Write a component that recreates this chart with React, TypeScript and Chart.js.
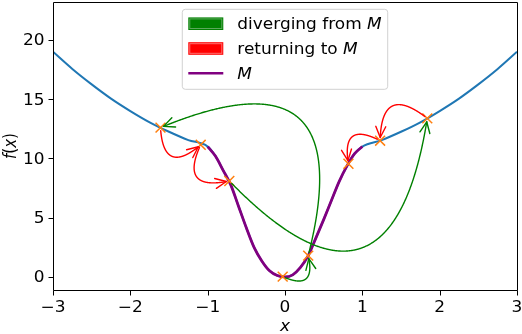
import React, { useEffect, useRef } from 'react';
import { Chart, registerables } from 'chart.js';

Chart.register(...registerables);

// ---- data ----
const curveX = [-3, -2.75, -2.5, -2.25, -2, -1.75, -1.5, -1.25, -1, -0.9, -0.8, -0.7, -0.6, -0.5, -0.4, -0.3, -0.2, -0.1, 0, 0.1, 0.2, 0.3, 0.4, 0.5, 0.6, 0.7, 0.8, 0.9, 1, 1.25, 1.5, 1.75, 2, 2.25, 2.5, 2.75, 3];
const curveY = [19.0, 17.55, 16.25, 15.05, 14.0, 13.05, 12.25, 11.55, 11.0, 10.2, 9.0, 7.75, 5.95, 4.15, 2.5, 1.35, 0.52, 0.12, 0.0, 0.18, 0.8, 1.8, 3.3, 4.84, 6.45, 8.05, 9.35, 10.4, 11.0, 11.55, 12.25, 13.05, 14.0, 15.05, 16.25, 17.55, 19.0];
const mFrom = -1;
const mTo = 1;

const markerX = [-1.61, -1.09, -0.72, -0.03, 0.3, 0.82, 1.23, 1.84];
const markerY = [12.6, 11.15, 8.1, 0.03, 1.8, 9.55, 11.5, 13.38];

// arrows: indices into the marker arrays
const divergingFrom = [3, 4, 2];
const divergingTo = [4, 0, 7];
const returningFrom = [0, 1, 7, 6];
const returningTo = [1, 2, 6, 5];

const xTicks = [-3, -2, -1, 0, 1, 2, 3];
const yTicks = [0, 5, 10, 15, 20];
const xRange = [-3, 3];
const yRange = [-1.1, 23.2];

const legendTexts = ['diverging from ', 'returning to ', ''];
const legendItalic = ['M', 'M', 'M'];

// ---- styles ----
const FONT = '"DejaVu Sans"';
const FS = 15;
const HS = 1.13; // horizontal text stretch seen in the reference
const BLUE = '#1f77b4';
const ORANGE = '#ff7f0e';
const PURPLE = '#800080';
const GREEN = '#008000';
const RED = '#ff0000';
const ARC_RAD = 1;

const fmt = (v: number) => (v < 0 ? '\u2212' + Math.abs(v) : String(v));

function drawArc(ctx: CanvasRenderingContext2D, p0: any, p2: any, color: string) {
  const mx = (p0.x + p2.x) / 2;
  const my = (p0.y + p2.y) / 2;
  const dx = p2.x - p0.x;
  const dy = p2.y - p0.y;
  const c = { x: mx - ARC_RAD * dy, y: my + ARC_RAD * dx };
  const shrink = 3;
  const pts: { x: number; y: number }[] = [];
  const N = 400;
  for (let i = 0; i <= N; i++) {
    const t = i / N;
    const a = (1 - t) * (1 - t);
    const b = 2 * t * (1 - t);
    const d = t * t;
    const p = { x: a * p0.x + b * c.x + d * p2.x, y: a * p0.y + b * c.y + d * p2.y };
    if (Math.hypot(p.x - p0.x, p.y - p0.y) >= shrink && Math.hypot(p.x - p2.x, p.y - p2.y) >= shrink) pts.push(p);
  }
  if (pts.length < 6) return;
  ctx.save();
  ctx.strokeStyle = color;
  ctx.lineWidth = 1.4;
  ctx.lineJoin = 'round';
  ctx.lineCap = 'round';
  ctx.beginPath();
  pts.forEach((p, i) => (i ? ctx.lineTo(p.x, p.y) : ctx.moveTo(p.x, p.y)));
  ctx.stroke();
  const tip = pts[pts.length - 1];
  const prev = pts[pts.length - 6];
  let ux = tip.x - prev.x;
  let uy = tip.y - prev.y;
  const len = Math.hypot(ux, uy) || 1;
  ux /= len;
  uy /= len;
  const L = 11;
  const W = 5;
  ctx.beginPath();
  ctx.moveTo(tip.x - L * ux - W * uy, tip.y - L * uy + W * ux);
  ctx.lineTo(tip.x, tip.y);
  ctx.lineTo(tip.x - L * ux + W * uy, tip.y - L * uy - W * ux);
  ctx.stroke();
  ctx.restore();
}

function setFont(ctx: CanvasRenderingContext2D, italic: boolean) {
  ctx.font = `${italic ? 'italic ' : ''}${FS}px ${FONT}`;
}

function measureParts(ctx: CanvasRenderingContext2D, parts: [string, boolean][]) {
  let w = 0;
  for (const [t, it] of parts) {
    setFont(ctx, it);
    w += ctx.measureText(t).width;
  }
  return w * HS;
}

// draws mixed-style text starting at x (left), baseline y; stretched horizontally
function drawParts(ctx: CanvasRenderingContext2D, parts: [string, boolean][], x: number, y: number) {
  ctx.save();
  ctx.translate(x, y);
  ctx.scale(HS, 1);
  ctx.textAlign = 'left';
  ctx.textBaseline = 'alphabetic';
  let cx = 0;
  for (const [t, it] of parts) {
    setFont(ctx, it);
    ctx.fillText(t, cx, 0);
    cx += ctx.measureText(t).width;
  }
  ctx.restore();
}

function drawText(ctx: CanvasRenderingContext2D, s: string, x: number, y: number, align: CanvasTextAlign, italic = false) {
  ctx.save();
  ctx.translate(x, y);
  ctx.scale(HS, 1);
  setFont(ctx, italic);
  ctx.textAlign = align;
  ctx.textBaseline = 'alphabetic';
  ctx.fillText(s, 0, 0);
  ctx.restore();
}

const overlay = {
  id: 'overlay',
  afterDatasetsDraw(chart: any) {
    const ctx = chart.ctx as CanvasRenderingContext2D;
    const xs = chart.scales.x;
    const ys = chart.scales.y;
    const pt = (i: number) => ({ x: xs.getPixelForValue(markerX[i]), y: ys.getPixelForValue(markerY[i]) });
    divergingFrom.forEach((a, k) => drawArc(ctx, pt(a), pt(divergingTo[k]), GREEN));
    returningFrom.forEach((a, k) => drawArc(ctx, pt(a), pt(returningTo[k]), RED));
  },
  afterDraw(chart: any) {
    const ctx = chart.ctx as CanvasRenderingContext2D;
    const ca = chart.chartArea;
    const xs = chart.scales.x;
    const ys = chart.scales.y;
    const L = Math.round(ca.left) + 0.5;
    const R = Math.round(ca.right) + 0.5;
    const T = Math.round(ca.top) + 0.5;
    const B = Math.round(ca.bottom) + 0.5;
    ctx.save();
    ctx.fillStyle = '#000';
    ctx.strokeStyle = '#000';
    ctx.lineWidth = 1;

    // ticks + labels
    ctx.beginPath();
    xTicks.forEach((v) => {
      const px = Math.round(xs.getPixelForValue(v)) + 0.5;
      ctx.moveTo(px, B);
      ctx.lineTo(px, B + 5);
    });
    yTicks.forEach((v) => {
      const py = Math.round(ys.getPixelForValue(v)) + 0.5;
      ctx.moveTo(L, py);
      ctx.lineTo(L - 5, py);
    });
    ctx.stroke();
    xTicks.forEach((v) => drawText(ctx, fmt(v), xs.getPixelForValue(v), ca.bottom + 22.3, 'center'));
    yTicks.forEach((v) => drawText(ctx, fmt(v), ca.left - 8.5, ys.getPixelForValue(v) + 5.4, 'right'));

    // frame
    ctx.beginPath();
    ctx.rect(L, T, R - L, B - T);
    ctx.stroke();

    // legend
    const rows: [string, boolean][][] = legendTexts.map((t, i) => [[t, false], [legendItalic[i], true]] as [string, boolean][]);
    const textW = Math.max(...rows.map((r) => measureParts(ctx, r)));
    const lw = 55 + textW + 6;
    const lh = 80;
    const lx = (ca.left + ca.right) / 2 - lw / 2;
    const ly = ca.top + 7.3;
    const r = 3;
    ctx.beginPath();
    ctx.moveTo(lx + r, ly);
    ctx.lineTo(lx + lw - r, ly);
    ctx.quadraticCurveTo(lx + lw, ly, lx + lw, ly + r);
    ctx.lineTo(lx + lw, ly + lh - r);
    ctx.quadraticCurveTo(lx + lw, ly + lh, lx + lw - r, ly + lh);
    ctx.lineTo(lx + r, ly + lh);
    ctx.quadraticCurveTo(lx, ly + lh, lx, ly + lh - r);
    ctx.lineTo(lx, ly + r);
    ctx.quadraticCurveTo(lx, ly, lx + r, ly);
    ctx.closePath();
    ctx.fillStyle = 'rgba(255,255,255,0.8)';
    ctx.fill();
    ctx.strokeStyle = 'rgba(204,204,204,0.9)';
    ctx.lineWidth = 1;
    ctx.stroke();

    const rowY = [14.4, 39.2, 64];
    const patchColors = [GREEN, RED];
    const patchEdges = ['#5aa85a', '#ff7070'];
    rows.forEach((row, i) => {
      const cy = ly + rowY[i];
      const px = lx + 6;
      if (i < 2) {
        ctx.fillStyle = patchColors[i];
        ctx.fillRect(px, cy - 6.3, 35, 12.6);
        ctx.strokeStyle = patchEdges[i];
        ctx.lineWidth = 1;
        ctx.strokeRect(px + 1.5, cy - 4.8, 32, 9.6);
      } else {
        ctx.strokeStyle = PURPLE;
        ctx.lineWidth = 2.5;
        ctx.beginPath();
        ctx.moveTo(px, cy);
        ctx.lineTo(px + 35, cy);
        ctx.stroke();
      }
      ctx.fillStyle = '#000';
      drawParts(ctx, row, lx + 55, cy + 5.3);
    });

    // axis titles
    ctx.fillStyle = '#000';
    drawText(ctx, 'x', (ca.left + ca.right) / 2, ca.bottom + 41, 'center', true);

    const yParts: [string, boolean][] = [['f', true], ['(', false], ['x', true], [')', false]];
    let yw = 0;
    for (const [t, it] of yParts) {
      setFont(ctx, it);
      yw += ctx.measureText(t).width;
    }
    ctx.save();
    ctx.translate(15.5, (ca.top + ca.bottom) / 2);
    ctx.scale(HS, 1);
    ctx.rotate(-Math.PI / 2);
    ctx.textAlign = 'left';
    ctx.textBaseline = 'alphabetic';
    let cx = -yw / 2;
    for (const [t, it] of yParts) {
      setFont(ctx, it);
      ctx.fillText(t, cx, 0);
      cx += ctx.measureText(t).width;
    }
    ctx.restore();
    ctx.restore();
  },
};

export default function App() {
  const ref = useRef<HTMLCanvasElement | null>(null);
  useEffect(() => {
    document.body.style.margin = '0';
    if (!ref.current) return;
    Chart.defaults.font.family = FONT;
    const curve = curveX.map((x, i) => ({ x, y: curveY[i] }));
    const mCurve = curve.filter((p) => p.x >= mFrom && p.x <= mTo);
    const markers = markerX.map((x, i) => ({ x, y: markerY[i] }));
    const hidden = {
      ticks: { display: false },
      grid: { display: false, drawTicks: false },
      border: { display: false },
    };
    const chart = new Chart(ref.current, {
      type: 'scatter',
      data: {
        datasets: [
          {
            label: 'points',
            data: markers,
            showLine: false,
            pointStyle: 'crossRot',
            pointRadius: 7,
            borderColor: ORANGE,
            backgroundColor: ORANGE,
            borderWidth: 1.5,
            order: 0,
          },
          {
            label: 'M',
            data: mCurve,
            showLine: true,
            pointRadius: 0,
            borderColor: PURPLE,
            borderWidth: 2.8,
            cubicInterpolationMode: 'monotone',
            order: 1,
          },
          {
            label: 'f',
            data: curve,
            showLine: true,
            pointRadius: 0,
            borderColor: BLUE,
            borderWidth: 2,
            cubicInterpolationMode: 'monotone',
            order: 2,
          },
        ] as any,
      },
      options: {
        responsive: false,
        animation: false,
        devicePixelRatio: 1,
        layout: { autoPadding: false, padding: { top: 2, right: 5, left: 0, bottom: 0 } },
        plugins: { legend: { display: false }, tooltip: { enabled: false } },
        scales: {
          x: {
            type: 'linear',
            min: xRange[0],
            max: xRange[1],
            position: 'bottom',
            ...hidden,
            afterFit: (s: any) => {
              s.height = 44;
              s.paddingLeft = 0;
              s.paddingRight = 0;
              s.paddingTop = 0;
              s.paddingBottom = 0;
            },
          },
          y: {
            type: 'linear',
            min: yRange[0],
            max: yRange[1],
            position: 'left',
            ...hidden,
            afterFit: (s: any) => {
              s.width = 53;
              s.paddingLeft = 0;
              s.paddingRight = 0;
              s.paddingTop = 0;
              s.paddingBottom = 0;
            },
          },
        } as any,
      },
      plugins: [overlay],
    });
    return () => chart.destroy();
  }, []);
  return (
    <div style={{ width: 522, height: 334, position: 'relative' }}>
      <canvas ref={ref} width={522} height={334} style={{ display: 'block' }} />
    </div>
  );
}
